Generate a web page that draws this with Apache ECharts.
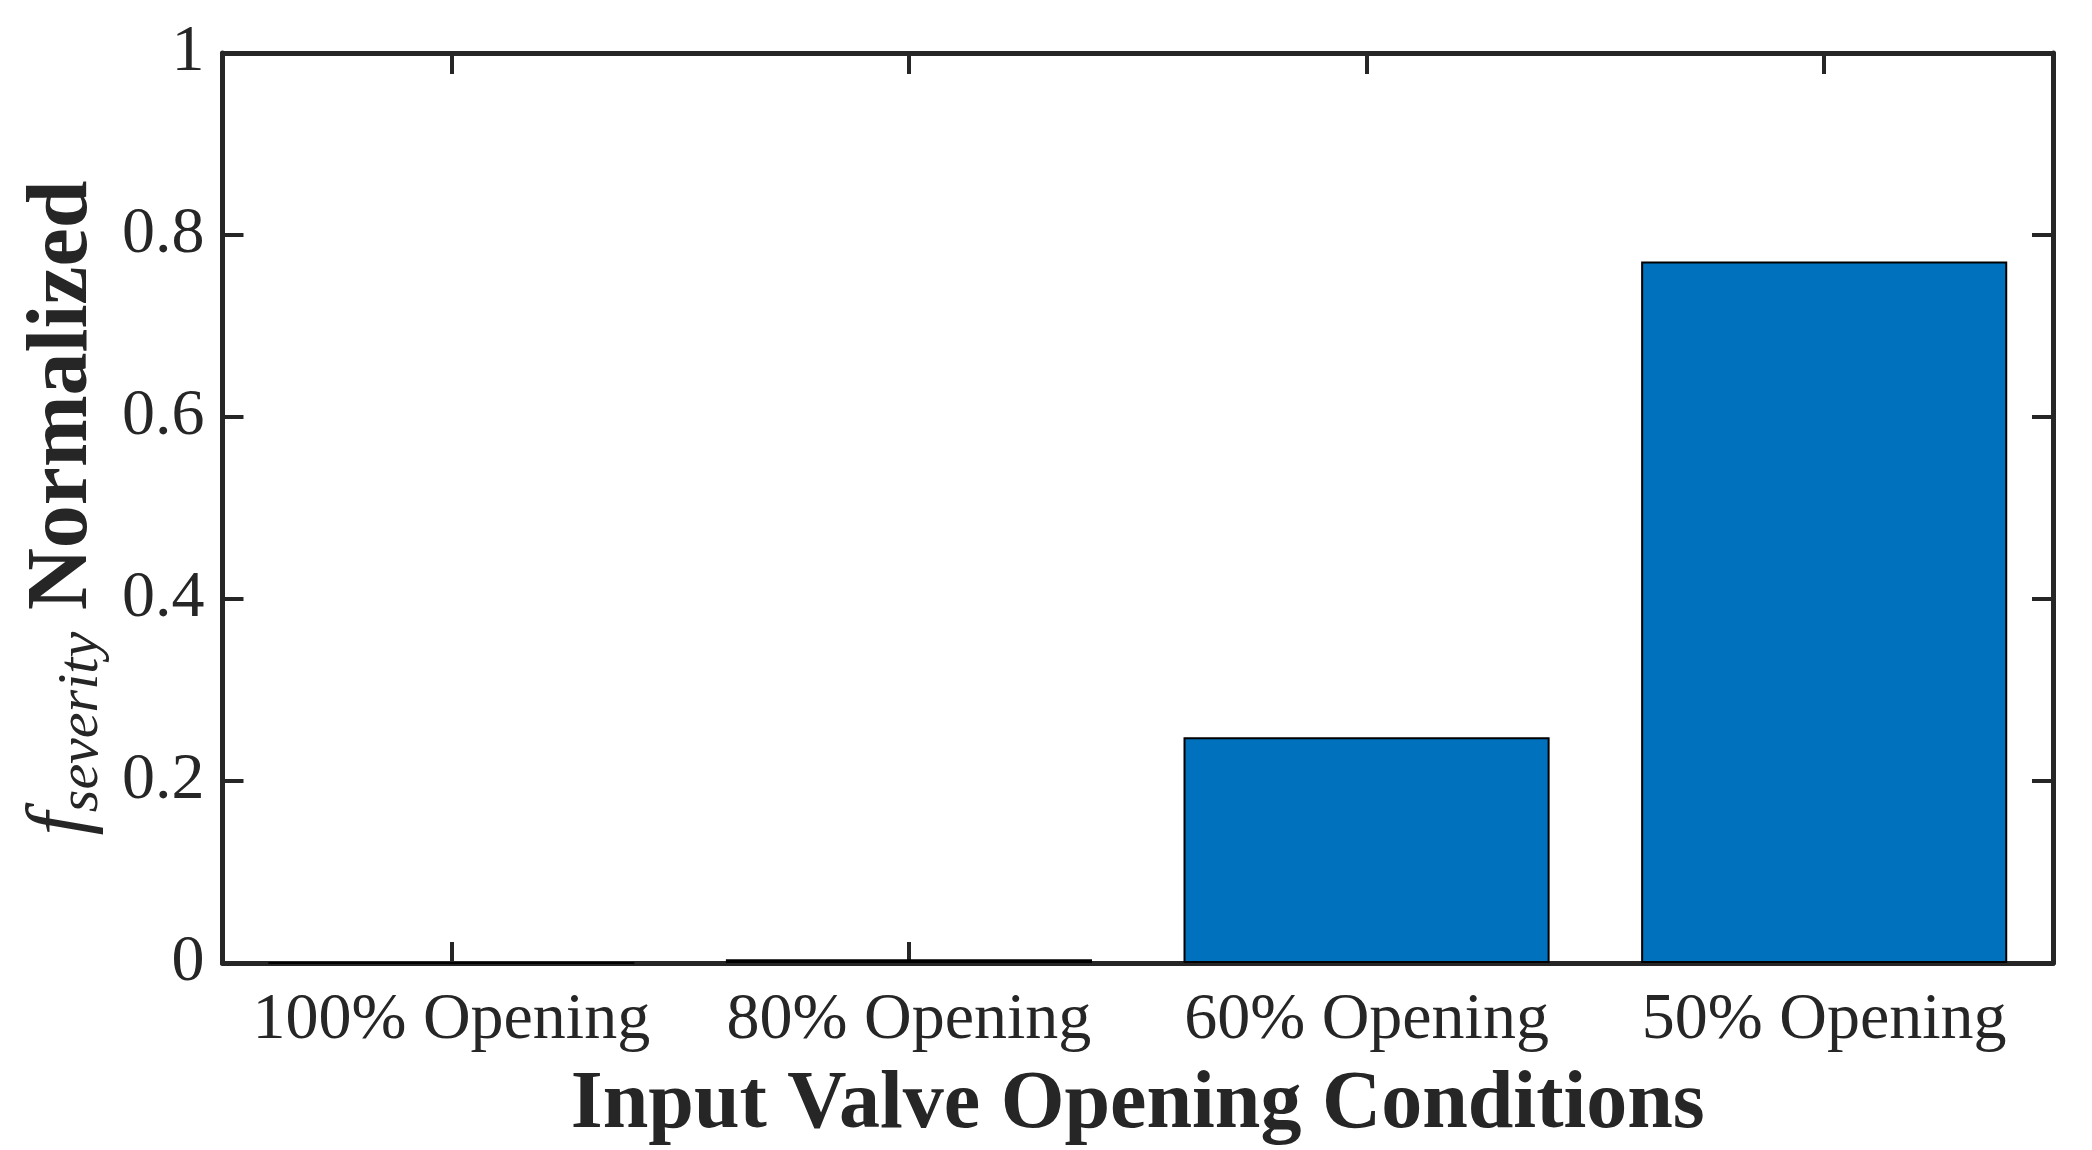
<!DOCTYPE html>
<html>
<head>
<meta charset="utf-8">
<script src="https://cdn.jsdelivr.net/npm/echarts@6/dist/echarts.min.js"></script>
<style>
html,body{margin:0;padding:0;background:#fff;}
#chart{width:2092px;height:1150px;}
</style>
</head>
<body>
<div id="chart"></div>
<script>
const categories = ['100% Opening', '80% Opening', '60% Opening', '50% Opening'];
const values = [0, 0.004, 0.248, 0.771];
const yTicks = [0, 0.2, 0.4, 0.6, 0.8, 1];

const FONT = '"Liberation Serif", "Times New Roman", serif';
const AX = '#262626';

const chart = echarts.init(document.getElementById('chart'));
const baseX = {
  type: 'category',
  data: categories,
  axisLine: { show: true, onZero: false, lineStyle: { color: AX, width: 5 } },
  axisTick: { show: true, inside: true, alignWithLabel: true, interval: 0, length: 21, lineStyle: { color: AX, width: 4 } },
  splitLine: { show: false }
};
const baseY = {
  type: 'value',
  min: yTicks[0], max: yTicks[yTicks.length - 1], interval: 0.2,
  axisLine: { show: true, onZero: false, lineStyle: { color: AX, width: 5 } },
  axisTick: { show: true, inside: true, length: 21, lineStyle: { color: AX, width: 4 } },
  splitLine: { show: false }
};
chart.setOption({
  animation: false,
  backgroundColor: '#fff',
  grid: { left: 222.5, right: 2092 - 2053, top: 53, bottom: 1150 - 963, containLabel: false, outerBoundsMode: 'none' },
  xAxis: [
    Object.assign({}, baseX, {
      position: 'bottom',
      axisLabel: { show: true, interval: 0, fontFamily: FONT, fontSize: 66, color: AX, margin: 25 },
      name: 'Input Valve Opening Conditions',
      nameLocation: 'middle',
      nameGap: 102,
      nameTextStyle: { fontFamily: FONT, fontSize: 82, fontWeight: 'bold', color: AX }
    }),
    Object.assign({}, baseX, {
      position: 'top',
      axisLabel: { show: false }
    })
  ],
  yAxis: [
    Object.assign({}, baseY, {
      position: 'left',
      axisLabel: {
        show: true, fontFamily: FONT, fontSize: 66, color: AX, margin: 18,
        formatter: v => (Math.abs(v) < 1e-9 ? '0' : (Math.abs(v - 1) < 1e-9 ? '1' : String(+v.toFixed(1))))
      },
      name: '{f|f}{sub|severity}{b| Normalized}',
      nameLocation: 'middle',
      nameRotate: 90,
      nameGap: 102,
      nameTextStyle: {
        color: AX,
        rich: {
          f: { fontFamily: FONT, fontStyle: 'italic', fontSize: 84, lineHeight: 90, verticalAlign: 'top', color: AX },
          sub: { fontFamily: FONT, fontStyle: 'italic', fontSize: 58, lineHeight: 56, verticalAlign: 'bottom', color: AX },
          b: { fontFamily: FONT, fontWeight: 'bold', fontSize: 86, lineHeight: 90, verticalAlign: 'top', color: AX }
        }
      }
    }),
    Object.assign({}, baseY, {
      position: 'right',
      axisLabel: { show: false }
    })
  ],
  series: [{
    type: 'bar',
    data: values,
    xAxisIndex: 0,
    yAxisIndex: 0,
    barWidth: '80%',
    itemStyle: { color: '#0072BD', borderColor: '#000', borderWidth: 2 }
  }]
});
</script>
</body>
</html>
